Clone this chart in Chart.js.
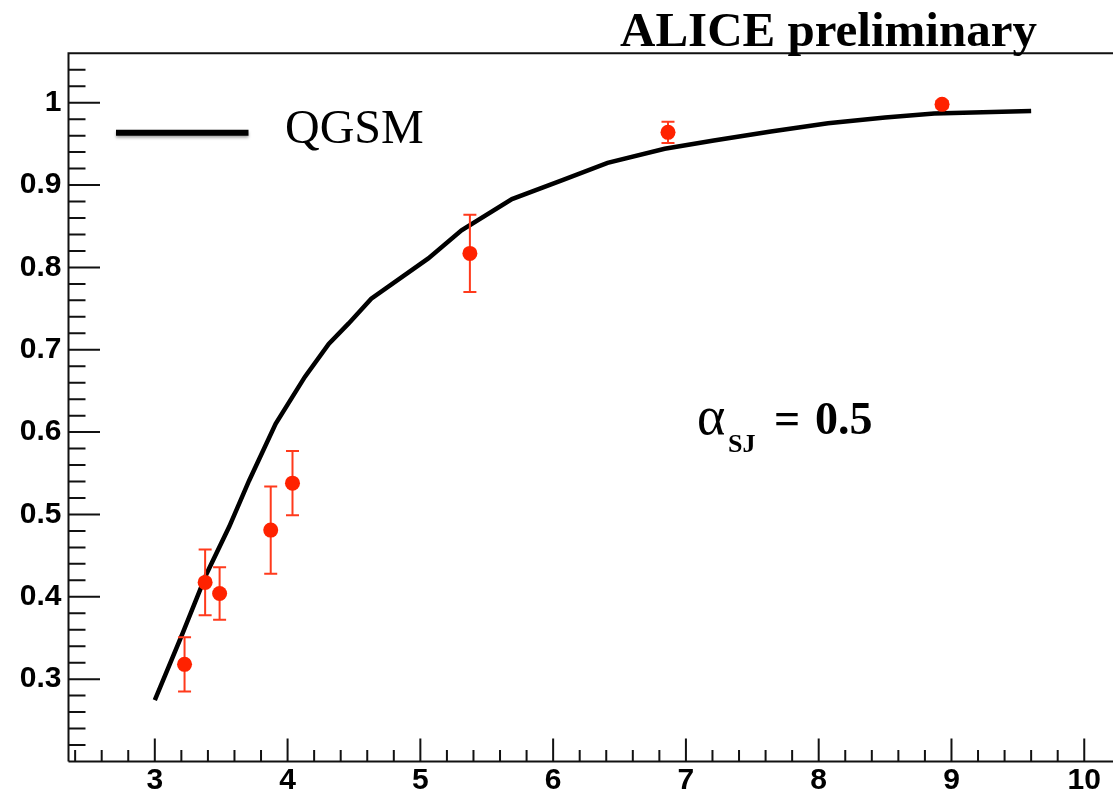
<!DOCTYPE html>
<html>
<head>
<meta charset="utf-8">
<script src="https://cdn.jsdelivr.net/npm/chart.js@4/dist/chart.umd.min.js"></script>
<style>
  html, body { margin: 0; padding: 0; background: #fff; overflow: hidden; }
  #wrap { position: relative; width: 1113px; height: 796px; }
</style>
</head>
<body>
<div id="wrap"><canvas id="c" width="1113" height="796"></canvas></div>
<script>
// Axis tick labels
const xTickValues = [3, 4, 5, 6, 7, 8, 9, 10];
const yTickValues = [0.3, 0.4, 0.5, 0.6, 0.7, 0.8, 0.9, 1.0];

// Measured points with their errors
const dataX   = [3.224, 3.379, 3.488, 3.873, 4.037, 5.373, 6.865, 8.929];
const dataY   = [0.318, 0.4175, 0.404, 0.481, 0.538, 0.817, 0.964, 0.998];
const dataErr = [0.033, 0.040, 0.032, 0.053, 0.039, 0.047, 0.013, 0.004];

// QGSM model curve
const qgsmX = [3.00, 3.21, 3.39, 3.56, 3.71, 3.91, 4.13, 4.31, 4.46, 4.63, 5.06, 5.31, 5.69, 6.07, 6.41, 6.84, 7.21, 7.64, 8.07, 8.50, 8.87, 9.60];
const qgsmY = [0.2746, 0.356, 0.428, 0.485, 0.541, 0.610, 0.667, 0.707, 0.732, 0.762, 0.811, 0.845, 0.883, 0.906, 0.927, 0.944, 0.954, 0.965, 0.975, 0.982, 0.987, 0.990];

const markerColor = '#ff2200';
const errColor = '#ff3a1c';
const tickFont = { family: "'Liberation Sans', Arial, sans-serif", size: 30, weight: 'bold' };

// Frame, inward ticks (major + minor) in ROOT style
const framePlugin = {
  id: 'frame',
  afterDraw(chart) {
    const { ctx, chartArea: a, scales: { x, y } } = chart;
    ctx.save();
    ctx.strokeStyle = '#111';
    ctx.lineWidth = 2;
    ctx.lineCap = 'butt';
    ctx.beginPath();
    ctx.moveTo(a.left, a.bottom); ctx.lineTo(a.left, a.top); ctx.lineTo(chart.width, a.top);
    ctx.moveTo(a.left, a.bottom); ctx.lineTo(chart.width, a.bottom);
    ctx.stroke();
    ctx.beginPath();
    for (let i = 12; i <= 50; i++) {
      const px = x.getPixelForValue(i / 5);
      const len = i % 5 === 0 ? 23 : 11.5;
      ctx.moveTo(px, a.bottom); ctx.lineTo(px, a.bottom - len);
    }
    for (let i = 11; i <= 52; i++) {
      const py = y.getPixelForValue(i / 50);
      const len = i % 5 === 0 ? 31.5 : 17;
      ctx.moveTo(a.left, py); ctx.lineTo(a.left + len, py);
    }
    ctx.stroke();
    ctx.restore();
  }
};

// Vertical error bars with caps, drawn after the curve and under the markers
const errorBarPlugin = {
  id: 'errorBars',
  afterDatasetDraw(chart, args) {
    if (args.index !== 1) return;
    const { ctx, scales: { x, y } } = chart;
    ctx.save();
    ctx.strokeStyle = errColor;
    ctx.lineWidth = 2;
    dataX.forEach((vx, i) => {
      const px = x.getPixelForValue(vx);
      const top = y.getPixelForValue(dataY[i] + dataErr[i]);
      const bot = y.getPixelForValue(dataY[i] - dataErr[i]);
      ctx.beginPath();
      ctx.moveTo(px, top); ctx.lineTo(px, bot);
      ctx.moveTo(px - 6.5, top); ctx.lineTo(px + 6.5, top);
      ctx.moveTo(px - 6.5, bot); ctx.lineTo(px + 6.5, bot);
      ctx.stroke();
    });
    ctx.restore();
  }
};

// Legend entry and annotations
const textPlugin = {
  id: 'annotations',
  afterDraw(chart) {
    const ctx = chart.ctx;
    ctx.save();
    // legend line with soft shadow
    ctx.shadowColor = 'rgba(0,0,0,0.35)';
    ctx.shadowBlur = 3;
    ctx.shadowOffsetY = 2;
    ctx.strokeStyle = '#000';
    ctx.lineWidth = 6;
    ctx.beginPath();
    ctx.moveTo(116, 132.7); ctx.lineTo(248.5, 132.7);
    ctx.stroke();
    ctx.shadowColor = 'transparent';
    ctx.shadowBlur = 0; ctx.shadowOffsetY = 0;

    ctx.fillStyle = '#000';
    ctx.textBaseline = 'alphabetic';
    ctx.textAlign = 'left';
    ctx.font = "48px 'Liberation Serif', 'Times New Roman', serif";
    ctx.fillText('QGSM', 285, 142.5);

    ctx.font = "bold 49px 'Liberation Serif', 'Times New Roman', serif";
    ctx.fillText('ALICE preliminary', 620, 45.5);

    ctx.font = "54px 'Liberation Serif', 'Times New Roman', serif";
    ctx.fillText('\u03B1', 697, 434);
    ctx.font = "bold 26px 'Liberation Serif', 'Times New Roman', serif";
    ctx.fillText('SJ', 728, 452);
    ctx.font = "bold 46px 'Liberation Serif', 'Times New Roman', serif";
    ctx.fillText('=', 774, 434);
    ctx.fillText('0.5', 815, 434);
    ctx.restore();
  }
};

new Chart(document.getElementById('c'), {
  data: {
    datasets: [
      {
        type: 'scatter',
        label: 'ALICE',
        data: dataX.map((v, i) => ({ x: v, y: dataY[i] })),
        pointRadius: 7.5,
        pointHoverRadius: 7.5,
        pointBackgroundColor: markerColor,
        pointBorderWidth: 0,
        showLine: false
      },
      {
        type: 'line',
        label: 'QGSM',
        data: qgsmX.map((v, i) => ({ x: v, y: qgsmY[i] })),
        borderColor: '#000',
        borderWidth: 4.5,
        pointRadius: 0,
        tension: 0,
        fill: false
      }
    ]
  },
  options: {
    responsive: false,
    devicePixelRatio: 1,
    animation: false,
    layout: { padding: { top: 53.3, left: 0, right: 0, bottom: 0 } },
    plugins: { legend: { display: false }, tooltip: { enabled: false } },
    scales: {
      x: {
        type: 'linear',
        position: 'bottom',
        min: 2.35,
        max: 10.16,
        grid: { display: false, drawTicks: false },
        border: { display: false },
        afterBuildTicks: s => { s.ticks = xTickValues.map(v => ({ value: v })); },
        afterFit: s => { s.height = 34.5; },
        ticks: { font: tickFont, color: '#000', padding: 1, maxRotation: 0, autoSkip: false, callback: v => String(v) }
      },
      y: {
        type: 'linear',
        position: 'left',
        min: 0.2,
        max: 1.06,
        grid: { display: false, drawTicks: false },
        border: { display: false },
        afterBuildTicks: s => { s.ticks = yTickValues.map(v => ({ value: v })); },
        afterFit: s => { s.width = 68.5; },
        ticks: { font: tickFont, color: '#000', padding: 7, autoSkip: false, callback: v => (v === 1 ? '1' : v.toFixed(1)) }
      }
    }
  },
  plugins: [errorBarPlugin, framePlugin, textPlugin]
});
</script>
</body>
</html>
